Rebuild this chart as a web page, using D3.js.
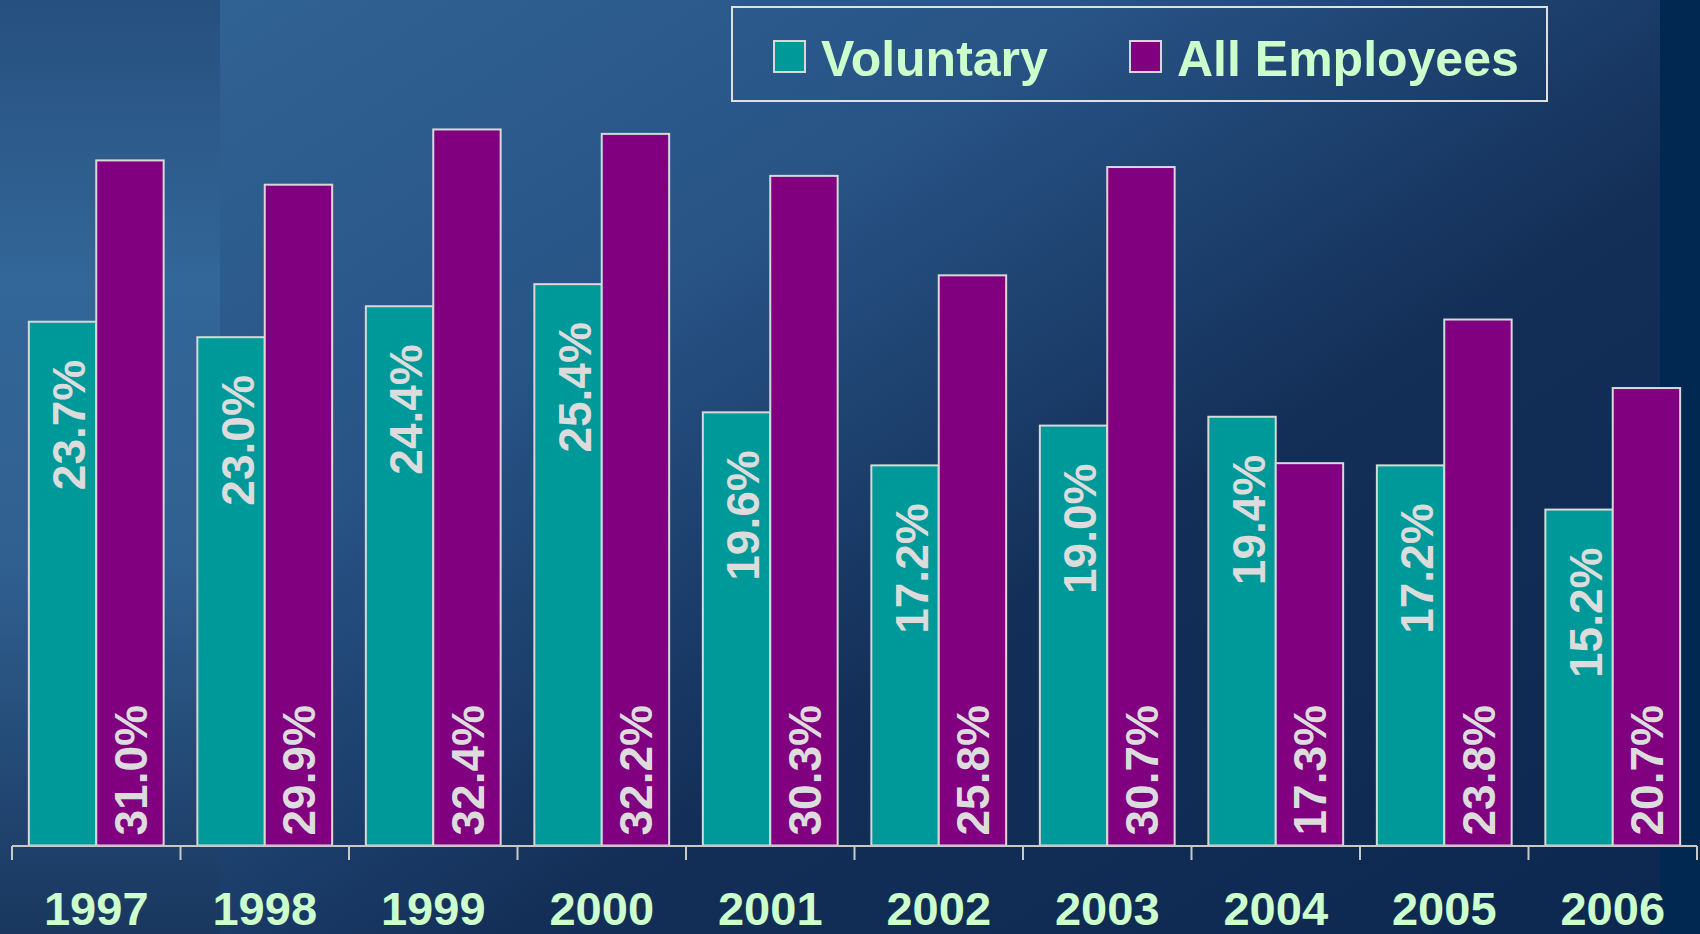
<!DOCTYPE html>
<html>
<head>
<meta charset="utf-8">
<script src="https://cdn.jsdelivr.net/npm/d3@7"></script>
<style>
  html, body { margin: 0; padding: 0; background: #0e2a50; }
  svg { display: block; font-family: "Liberation Sans", Arial, sans-serif; font-weight: bold; }
</style>
</head>
<body>
<svg width="1700" height="934"></svg>
<script>
var years = ["1997", "1998", "1999", "2000", "2001", "2002", "2003", "2004", "2005", "2006"];
var voluntary = [23.7, 23.0, 24.4, 25.4, 19.6, 17.2, 19.0, 19.4, 17.2, 15.2];
var allEmployees = [31.0, 29.9, 32.4, 32.2, 30.3, 25.8, 30.7, 17.3, 23.8, 20.7];
var seriesNames = ["Voluntary", "All Employees"];
var seriesColors = ["#009999", "#800080"];

var width = 1700, height = 934;
var svg = d3.select("svg");

// background
var defs = svg.append("defs");
var g1 = defs.append("linearGradient").attr("id", "bgMain")
    .attr("x1", 0).attr("y1", 0).attr("x2", 1).attr("y2", 1);
g1.append("stop").attr("offset", 0).attr("stop-color", "#316294");
g1.append("stop").attr("offset", 0.3).attr("stop-color", "#285486");
g1.append("stop").attr("offset", 0.6).attr("stop-color", "#132f58");
g1.append("stop").attr("offset", 1).attr("stop-color", "#0c2850");

var g2 = defs.append("linearGradient").attr("id", "bgLeft")
    .attr("x1", 0).attr("y1", 0).attr("x2", 0).attr("y2", 1);
g2.append("stop").attr("offset", 0).attr("stop-color", "#26507e");
g2.append("stop").attr("offset", 0.3).attr("stop-color", "#336699");
g2.append("stop").attr("offset", 0.6).attr("stop-color", "#306090");
g2.append("stop").attr("offset", 1).attr("stop-color", "#19375f");

svg.append("rect").attr("x", 0).attr("y", 0).attr("width", 220).attr("height", height)
    .attr("fill", "url(#bgLeft)");
svg.append("rect").attr("x", 220).attr("y", 0).attr("width", 1440).attr("height", height)
    .attr("fill", "url(#bgMain)");
svg.append("rect").attr("x", 1660).attr("y", 0).attr("width", 40).attr("height", height)
    .attr("fill", "#002850");

// scales
var x = d3.scaleBand().domain(years).range([12, 1697]).paddingInner(0.2).paddingOuter(0.1);
var xs = d3.scaleBand().domain(seriesNames).range([0, x.bandwidth()]);
var y = d3.scaleLinear().domain([0, 35]).range([845.5, 72]);

var rows = years.map(function(yr, i) {
    return { year: yr, values: [voluntary[i], allEmployees[i]] };
});

var groups = svg.append("g").selectAll("g")
    .data(rows)
    .enter().append("g")
    .attr("transform", function(d) { return "translate(" + x(d.year) + ",0)"; });

groups.selectAll("rect")
    .data(function(d) { return d.values.map(function(v, k) { return { k: k, v: v }; }); })
    .enter().append("rect")
    .attr("x", function(d) { return xs(seriesNames[d.k]); })
    .attr("y", function(d) { return y(d.v); })
    .attr("width", xs.bandwidth())
    .attr("height", function(d) { return y(0) - y(d.v); })
    .attr("fill", function(d) { return seriesColors[d.k]; })
    .attr("stroke", "#d8d8d8")
    .attr("stroke-width", 2);

// value labels, rotated
groups.selectAll("text")
    .data(function(d) { return d.values.map(function(v, k) { return { k: k, v: v }; }); })
    .enter().append("text")
    .attr("transform", function(d) {
        var cx = xs(seriesNames[d.k]) + xs.bandwidth() / 2 + (d.k == 0 ? 6 : 0);
        var cy = d.k == 0 ? y(d.v) + 38 : y(0) - 10;
        return "translate(" + cx + "," + cy + ") rotate(-90)";
    })
    .attr("text-anchor", function(d) { return d.k == 0 ? "end" : "start"; })
    .attr("dy", "0.36em")
    .attr("fill", "#dcdcdc")
    .attr("font-size", 46)
    .text(function(d) { return d.v.toFixed(1) + "%"; });

// x axis
var axis = svg.append("g").attr("stroke", "#c8c8c8").attr("stroke-width", 2).attr("fill", "none");
axis.append("line").attr("x1", 12).attr("x2", 1697).attr("y1", 846).attr("y2", 846);
var bounds = years.map(function(d) { return x(d) - x.step() * 0.1; });
bounds.push(x(years[years.length - 1]) + x.bandwidth() + x.step() * 0.1);
axis.selectAll("line.tick").data(bounds).enter().append("line")
    .attr("class", "tick")
    .attr("x1", function(d) { return d; }).attr("x2", function(d) { return d; })
    .attr("y1", 846).attr("y2", 860);

svg.append("g").selectAll("text")
    .data(years)
    .enter().append("text")
    .attr("x", function(d) { return x(d) + x.bandwidth() / 2; })
    .attr("y", 925)
    .attr("text-anchor", "middle")
    .attr("fill", "#ccffcc")
    .attr("font-size", 47)
    .text(function(d) { return d; });

// legend
var legend = svg.append("g");
legend.append("rect").attr("x", 732).attr("y", 7).attr("width", 815).attr("height", 94)
    .attr("fill", "none").attr("stroke", "#e0e0e0").attr("stroke-width", 2);
var legendX = [774, 1130];
seriesNames.forEach(function(name, k) {
    legend.append("rect").attr("x", legendX[k]).attr("y", 41).attr("width", 31).attr("height", 31)
        .attr("fill", seriesColors[k]).attr("stroke", "#d8d8d8").attr("stroke-width", 2);
    legend.append("text").attr("x", legendX[k] + 47).attr("y", 76)
        .attr("fill", "#ccffcc").attr("font-size", 50)
        .text(name);
});
</script>
</body>
</html>
